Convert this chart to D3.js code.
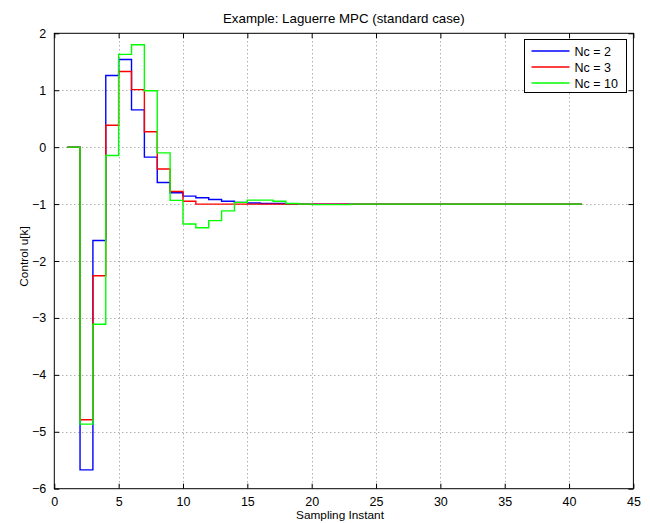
<!DOCTYPE html>
<html>
<head>
<meta charset="utf-8">
<script src="https://cdn.jsdelivr.net/npm/d3@7"></script>
<style>
body{margin:0;background:#fff;}
svg{display:block;font-family:"Liberation Sans",Arial,Helvetica,sans-serif;}
</style>
</head>
<body>
<svg id="chart" width="650" height="523"></svg>
<script>
const samples = d3.range(1, 42);
const seriesNames = ["Nc = 2", "Nc = 3", "Nc = 10"];
const seriesColors = ["#0000ff", "#ff0000", "#00ff00"];
const uNc2 = [0, -5.67, -1.64, 1.26, 1.54, 0.655, -0.175, -0.62, -0.80, -0.86, -0.89, -0.92, -0.95, -0.97, -0.98, -0.99, -0.99, -1.0, -1.0, -1.0,
  -1.0, -1.0, -1.0, -1.0, -1.0, -1.0, -1.0, -1.0, -1.0, -1.0, -1.0, -1.0, -1.0, -1.0, -1.0, -1.0, -1.0, -1.0, -1.0, -1.0, -1.0];
const uNc3 = [0, -4.79, -2.26, 0.385, 1.33, 1.01, 0.27, -0.385, -0.78, -0.95, -1.0, -1.0, -1.0, -1.0, -1.0, -1.0, -1.0, -1.0, -1.0, -1.0,
  -1.0, -1.0, -1.0, -1.0, -1.0, -1.0, -1.0, -1.0, -1.0, -1.0, -1.0, -1.0, -1.0, -1.0, -1.0, -1.0, -1.0, -1.0, -1.0, -1.0, -1.0];
const uNc10 = [0, -4.865, -3.11, -0.146, 1.63, 1.80, 0.99, -0.10, -0.935, -1.35, -1.415, -1.29, -1.12, -0.97, -0.93, -0.93, -0.95, -0.99, -1.0, -1.01,
  -1.01, -1.01, -1.0, -1.0, -1.0, -1.0, -1.0, -1.0, -1.0, -1.0, -1.0, -1.0, -1.0, -1.0, -1.0, -1.0, -1.0, -1.0, -1.0, -1.0, -1.0];
const xTicks = [0, 5, 10, 15, 20, 25, 30, 35, 40, 45];
const yTicks = [-6, -5, -4, -3, -2, -1, 0, 1, 2];
const titleText = "Example: Laguerre MPC (standard case)";
const xLabel = "Sampling Instant";
const yLabel = "Control u[k]";

const L = 54.3, R = 633.4, T = 33.3, B = 488.7;
const svg = d3.select("#chart");
const x = d3.scaleLinear().domain([0, 45]).range([L, R]);
const y = d3.scaleLinear().domain([-6, 2]).range([B, T]);

// grid
const grid = svg.append("g").attr("stroke", "#8c8c8c").attr("stroke-width", 1).attr("stroke-dasharray", "1,3");
grid.selectAll(".gx").data(xTicks.slice(1, -1)).join("line")
  .attr("x1", d => Math.round(x(d)) + 0.5).attr("x2", d => Math.round(x(d)) + 0.5)
  .attr("y1", T).attr("y2", B);
grid.selectAll(".gy").data(yTicks.slice(1, -1)).join("line")
  .attr("y1", d => Math.round(y(d)) + 0.5).attr("y2", d => Math.round(y(d)) + 0.5)
  .attr("x1", L).attr("x2", R);

// series
const seriesData = [uNc2, uNc3, uNc10];
const line = d3.line().x(d => x(d[0])).y(d => y(d[1])).curve(d3.curveStepAfter);
seriesData.forEach((vals, i) => {
  svg.append("path")
    .datum(samples.map((k, j) => [k, vals[j]]))
    .attr("fill", "none")
    .style("stroke", seriesColors[i])
    .attr("stroke-width", 1.4)
    .attr("d", line);
});

// axes
const tl = 5;
const axB = svg.append("g").attr("transform", `translate(0,${B})`)
  .call(d3.axisBottom(x).tickValues(xTicks).tickSizeInner(-tl).tickSizeOuter(0).tickPadding(8).tickFormat(d3.format("d")));
const axT = svg.append("g").attr("transform", `translate(0,${T})`)
  .call(d3.axisTop(x).tickValues(xTicks).tickSizeInner(-tl).tickSizeOuter(0).tickFormat(""));
const axL = svg.append("g").attr("transform", `translate(${L},0)`)
  .call(d3.axisLeft(y).tickValues(yTicks).tickSizeInner(-tl).tickSizeOuter(0).tickPadding(8).tickFormat(d => d < 0 ? "\u2212" + Math.abs(d) : d));
const axR = svg.append("g").attr("transform", `translate(${R},0)`)
  .call(d3.axisRight(y).tickValues(yTicks).tickSizeInner(-tl).tickSizeOuter(0).tickFormat(""));
[axB, axT, axL, axR].forEach(a => {
  a.select(".domain").remove();
  a.selectAll("line").attr("stroke", "#000");
  a.selectAll("text").attr("fill", "#000").style("font-size", "12.5px").style("font-family", "Liberation Sans, Arial, sans-serif");
});
svg.append("rect").attr("x", L).attr("y", T).attr("width", R - L).attr("height", B - T)
  .attr("fill", "none").attr("stroke", "#000").attr("stroke-width", 1);

// labels
svg.append("text").attr("x", (L + R) / 2).attr("y", 23).attr("text-anchor", "middle")
  .style("font-size", "13.3px").text(titleText);
svg.append("text").attr("x", 340).attr("y", 518.5).attr("text-anchor", "middle")
  .style("font-size", "11.8px").text(xLabel);
svg.append("text").attr("transform", `translate(28,256.5) rotate(-90)`).attr("text-anchor", "middle")
  .style("font-size", "11.8px").text(yLabel);

// legend
const lg = svg.append("g");
lg.append("rect").attr("x", 524.5).attr("y", 39.5).attr("width", 102).attr("height", 53)
  .attr("fill", "#fff").attr("stroke", "#000").attr("stroke-width", 1);
seriesNames.forEach((n, i) => {
  const yy = 51 + i * 16;
  lg.append("line").attr("x1", 531.5).attr("x2", 569.5).attr("y1", yy).attr("y2", yy)
    .style("stroke", seriesColors[i]).style("stroke-width", "1.5px");
  lg.append("text").attr("x", 574.5).attr("y", yy + 5).style("font-size", "12.5px").text(n);
});
</script>
</body>
</html>
